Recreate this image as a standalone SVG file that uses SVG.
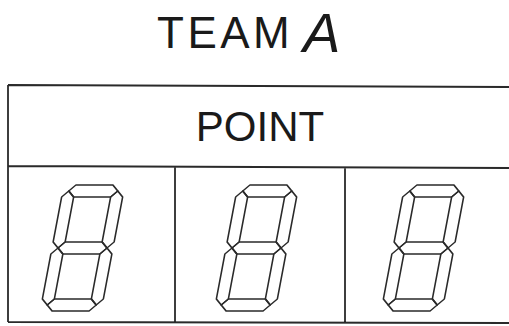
<svg xmlns="http://www.w3.org/2000/svg" xmlns:xlink="http://www.w3.org/1999/xlink" width="509" height="326" viewBox="0 0 509 326">
<style>
.txt{font-family:"Liberation Sans",Arial,sans-serif;fill:#1a1a1a}
.line{stroke:#2a2a2a;stroke-width:1.8;fill:none}
.seg{fill:none;stroke:#2a2a2a;stroke-width:1.6;stroke-linejoin:round}
</style>
<defs>
<g id="digit8" class="seg">
<path d="M0,-57 L6,-63 L43,-63 L49,-57 L43,-51 L6,-51 Z"/>
<path d="M0,0 L6,-6 L43,-6 L49,0 L43,6 L6,6 Z"/>
<path d="M0,57 L6,51 L43,51 L49,57 L43,63 L6,63 Z"/>
<path d="M0,-57 L6,-51 L6,-6 L0,0 L-6,-6 L-6,-51 Z"/>
<path d="M49,-57 L55,-51 L55,-6 L49,0 L43,-6 L43,-51 Z"/>
<path d="M0,0 L6,6 L6,51 L0,57 L-6,51 L-6,6 Z"/>
<path d="M49,0 L55,6 L55,51 L49,57 L43,51 L43,6 Z"/>
</g>
</defs>
<rect width="509" height="326" fill="#ffffff"/>
<g id="title">
<text class="txt" x="157" y="48" font-size="44" letter-spacing="3.5">TEAM</text>
<text class="txt" x="303" y="51.5" font-size="56" font-style="italic">A</text>
</g>
<g id="table">
<path class="line" d="M8,85 L509,87 M8,166 L509,168 M8,322 L509,323 M8,85 L8,322 M175,166 L175,322 M345,167 L345,322"/>
<text class="txt" x="260" y="141" font-size="42" text-anchor="middle">POINT</text>
</g>
<g id="digit1" transform="translate(58,248) skewX(-10.7)"><use xlink:href="#digit8"/></g>
<g id="digit2" transform="translate(232,248) skewX(-10.7)"><use xlink:href="#digit8"/></g>
<g id="digit3" transform="translate(399,248) skewX(-10.7)"><use xlink:href="#digit8"/></g>
</svg>
